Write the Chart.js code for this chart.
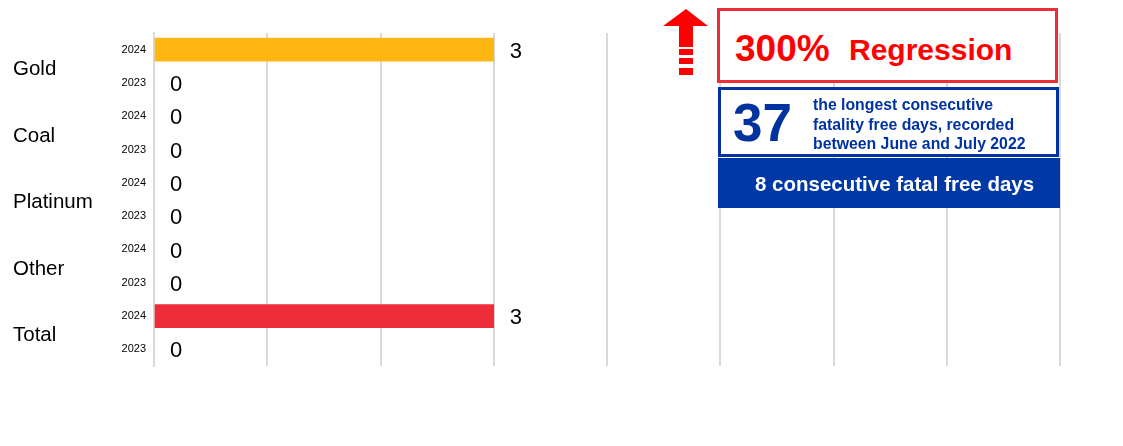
<!DOCTYPE html>
<html>
<head>
<meta charset="utf-8">
<script src="https://cdn.jsdelivr.net/npm/chart.js@4/dist/chart.umd.min.js"></script>
<style>
  html, body { margin:0; padding:0; background:#fff; }
  #wrap { position:relative; width:1123px; height:446px; font-family:"Liberation Sans", Arial, sans-serif; }
  canvas { position:absolute; left:0; top:0; }
  .box { position:absolute; box-sizing:border-box; }
  .box span, .box div { position:absolute; line-height:1; white-space:nowrap; }
  #redbox { left:717px; top:8px; width:341px; height:75px; border:3px solid #ee2d3a; background:#fff; }
  #redbox .pct { left:15px; top:19px; font-size:37px; font-weight:bold; color:#ff0000; }
  #redbox .reg { left:129px; top:24px; font-size:30px; font-weight:bold; color:#ff0000; }
  #bluebox { left:718px; top:87px; width:341px; height:70px; border:3px solid #0033a0; background:#fff; }
  #bluebox .num { left:12px; top:6px; font-size:53px; font-weight:bold; color:#0033a0; }
  #bluebox .txt { left:92px; top:5px; font-size:15.8px; line-height:19.5px; font-weight:bold; color:#0033a0; }
  #fillbox { left:718px; top:158px; width:342px; height:50px; background:#0039a6; color:#fff; }
  #fillbox span { left:37px; top:16px; font-size:20.5px; font-weight:bold; }
  #arrow { position:absolute; left:660px; top:6px; }
</style>
</head>
<body>
<div id="wrap">
  <canvas id="c" width="1123" height="446"></canvas>
  <svg id="arrow" width="52" height="72" viewBox="0 0 52 72">
    <polygon points="26,3 48,20 33,20 33,41 19,41 19,20 3,20" fill="#ff0000"/>
    <rect x="19" y="43" width="14" height="6" fill="#ff0000"/>
    <rect x="19" y="52" width="14" height="6" fill="#ff0000"/>
    <rect x="19" y="62" width="14" height="7" fill="#ff0000"/>
  </svg>
  <div class="box" id="redbox"><span class="pct">300%</span><span class="reg">Regression</span></div>
  <div class="box" id="bluebox"><span class="num">37</span><div class="txt">the longest consecutive<br>fatality free days, recorded<br>between June and July 2022</div></div>
  <div class="box" id="fillbox"><span>8 consecutive fatal free days</span></div>
</div>
<script>
const groups = ["Gold", "Coal", "Platinum", "Other", "Total"];
const years = ["2024", "2023"];
const values2024 = [3, 0, 0, 0, 3];
const values2023 = [0, 0, 0, 0, 0];
const xTicks = [0, 1, 2, 3, 4, 5, 6, 7, 8];

const rowLabels = [];
const rowValues = [];
const rowColors = [];
groups.forEach((g, i) => {
  const c = g === "Total" ? "#ee2d3a" : "#ffb612";
  rowLabels.push(years[0]); rowValues.push(values2024[i]); rowColors.push(c);
  rowLabels.push(years[1]); rowValues.push(values2023[i]); rowColors.push(c);
});

const FONT = '"Liberation Sans", Arial, sans-serif';

const labelPlugin = {
  id: 'labels',
  afterDatasetsDraw(chart) {
    const ctx = chart.ctx;
    const meta = chart.getDatasetMeta(0);
    ctx.save();
    ctx.font = '22px ' + FONT;
    ctx.fillStyle = '#000';
    ctx.textAlign = 'left';
    ctx.textBaseline = 'middle';
    meta.data.forEach((bar, i) => {
      ctx.fillText(String(rowValues[i]), bar.x + 16, bar.y + 2);
    });
    const ys = chart.scales.y;
    ctx.font = '20.5px ' + FONT;
    groups.forEach((g, i) => {
      const y = (ys.getPixelForValue(2 * i) + ys.getPixelForValue(2 * i + 1)) / 2;
      ctx.fillText(g, 13, y + 3);
    });
    ctx.restore();
  }
};

new Chart(document.getElementById('c'), {
  type: 'bar',
  data: {
    labels: rowLabels,
    datasets: [{
      data: rowValues,
      backgroundColor: ctx => (rowValues[ctx.dataIndex] === 0 ? 'rgba(0,0,0,0)' : rowColors[ctx.dataIndex]),
      barThickness: 23,
      borderWidth: 0
    }]
  },
  options: {
    indexAxis: 'y',
    responsive: false,
    animation: false,
    layout: { padding: { top: 33, bottom: 80, right: 63, left: 0 } },
    plugins: { legend: { display: false }, tooltip: { enabled: false } },
    scales: {
      x: {
        min: xTicks[0], max: xTicks[xTicks.length - 1],
        afterBuildTicks(s) { s.ticks = xTicks.map(v => ({ value: v })); },
        ticks: { display: false },
        grid: { color: '#d9d9d9', lineWidth: 2, drawTicks: false },
        border: { display: false },
        afterFit(s) { s.height = 0; }
      },
      y: {
        grid: { display: false, drawTicks: false },
        border: { display: true, color: '#d9d9d9', width: 2 },
        ticks: { font: { size: 11, family: FONT }, color: '#000', padding: 8 },
        afterFit(s) { s.width = 154; }
      }
    }
  },
  plugins: [labelPlugin]
});
</script>
</body>
</html>
